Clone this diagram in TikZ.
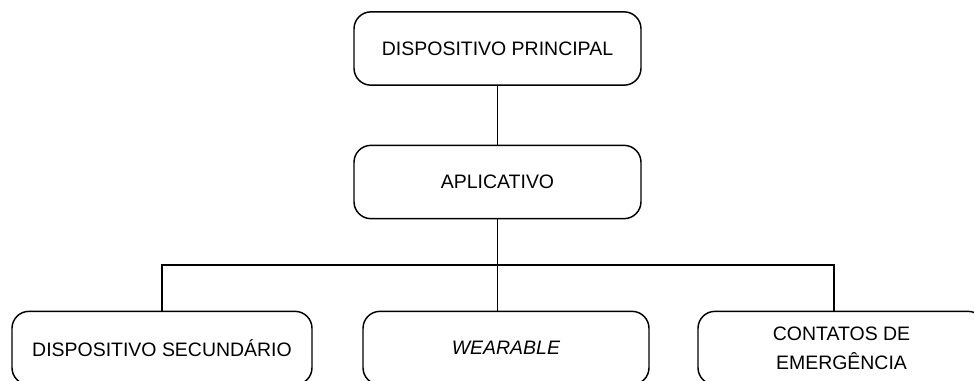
\documentclass[tikz,border=0pt]{standalone}
\usepackage{fontspec}
\setmainfont{Liberation Sans}

\begin{document}
\begin{tikzpicture}[x=0.75pt, y=-0.75pt,
      every node/.style={font=\fontsize{14.6}{22}\selectfont},
      orgbox/.style={draw, line width=1.1pt, rounded corners=12.75pt,
        minimum height=55pt, inner sep=0pt, align=center},
      link/.style={line width=0.9pt}]
    \useasboundingbox (0,0) rectangle (974,380);
    \node[orgbox, minimum width=215.25pt] (principal) at (497.5,48.5) {DISPOSITIVO PRINCIPAL};
    \node[orgbox, minimum width=215.25pt] (app) at (497.5,182) {APLICATIVO};
    \node[orgbox, minimum width=225pt] (sec) at (162,348) {DISPOSITIVO SECUNDÁRIO};
    \node[orgbox, minimum width=214.5pt] (wear) at (506,348) {\textit{WEARABLE}};
    \node[orgbox, minimum width=215.25pt] (cont) at (841.5,348) {CONTATOS DE\\EMERGÊNCIA};
    \coordinate (busl) at (162,265);
    \coordinate (busr) at (834,265);
    \draw[link] (principal.south) -- (app.north);
    \draw[link] (app.south) -- (app.south |- wear.north);
    \draw[link] (sec.north) -- (busl) -- (busr) -- (busr |- cont.north);
  \end{tikzpicture}
\end{document}
